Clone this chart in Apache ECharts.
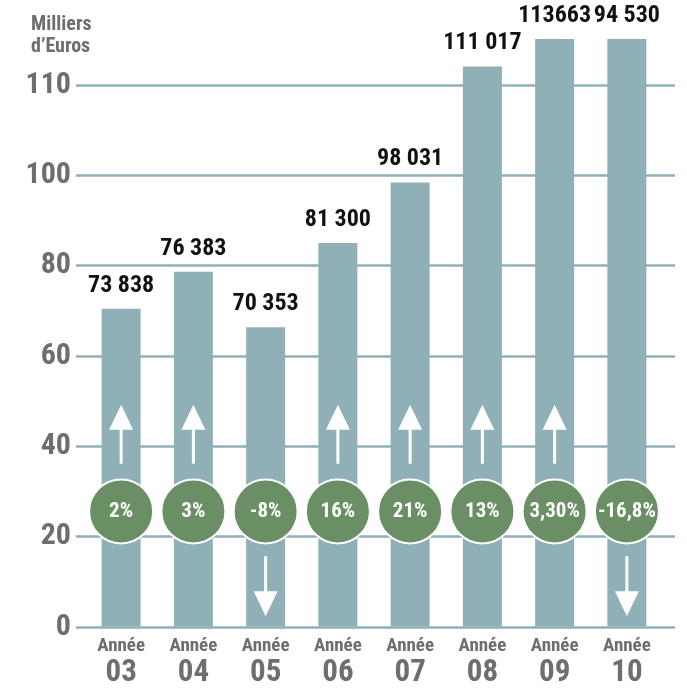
<!DOCTYPE html>
<html>
<head>
<meta charset="utf-8">
<script src="https://cdn.jsdelivr.net/npm/echarts@6/dist/echarts.min.js"></script>
<style>
html,body{margin:0;padding:0;background:#fff;}
#chart{width:687px;height:689px;}
</style>
</head>
<body>
<div id="chart"></div>
<script>
// ---- data ----
var categories = ['03','04','05','06','07','08','09','10'];
var barHeights = [70.4, 78.6, 66.3, 85.0, 98.4, 124.1, 130.2, 130.2];
var valueLabels = ['73 838','76 383','70 353','81 300','98 031','111 017','113663','94 530'];
var growthLabels = ['2%','3%','-8%','16%','21%','13%','3,30%','-16,8%'];
var yTickLabels = ['0','20','40','60','80','100','110'];

var FONT = '"Roboto Condensed","Open Sans Condensed",sans-serif';
var GREY = '#6d6e71';
var BAR = '#8eb0b6';

var circleLevel = 25.5;
var upLevel = 42.6;
var downLevel = 8.9;

var upPath = 'path://M12,0 L24,25 L13.5,25 L13.5,59 L10.5,59 L10.5,25 L0,25 Z';
var downPath = 'path://M10.5,0 L13.5,0 L13.5,35 L24,35 L12,60 L0,35 L10.5,35 Z';

var circleData = categories.map(function(c, i){ return { value: [i, circleLevel], label: { formatter: growthLabels[i] } }; });
var arrowData = categories.map(function(c, i){
  var down = growthLabels[i].charAt(0) === '-';
  return { value: [i, down ? downLevel : upLevel], symbol: down ? downPath : upPath, symbolSize: [24, down ? 60 : 59] };
});

var chart = echarts.init(document.getElementById('chart'));
chart.setOption({
  animation: false,
  backgroundColor: '#fff',
  title: {
    text: 'Milliers\nd\u2019Euros',
    left: 26, top: 9,
    textStyle: { fontFamily: FONT, fontSize: 20, fontWeight: 'bold', color: GREY, lineHeight: 22 }
  },
  grid: [
    { left: 76, right: 12, top: 85, bottom: 62 },
    { left: 85, width: 578, top: 85, bottom: 62 }
  ],
  xAxis: [
    { type: 'category', gridIndex: 0, data: categories, show: false },
    {
      type: 'category', gridIndex: 1, data: categories,
      axisLine: { show: false }, axisTick: { show: false },
      axisLabel: {
        margin: 9,
        formatter: function(v){ return '{a|Ann\u00e9e}\n{b|' + v + '}'; },
        rich: {
          a: { fontFamily: FONT, fontSize: 19, fontWeight: 'bold', color: GREY, lineHeight: 22, align: 'center' },
          b: { fontFamily: FONT, fontSize: 31, fontWeight: 'bold', color: GREY, lineHeight: 32, align: 'center' }
        }
      }
    }
  ],
  yAxis: [
    {
      type: 'value', gridIndex: 0, min: 0, max: 120, interval: 20,
      axisLine: { show: false }, axisTick: { show: false },
      splitLine: { show: true, lineStyle: { color: BAR, width: 2.5 } },
      axisLabel: {
        margin: 5,
        fontFamily: FONT, fontSize: 30, fontWeight: 'bold', color: GREY,
        formatter: function(v){ return yTickLabels[Math.round(v / 20)]; }
      }
    },
    { type: 'value', gridIndex: 1, min: 0, max: 120, interval: 20, show: false }
  ],
  series: [
    {
      type: 'bar', xAxisIndex: 1, yAxisIndex: 1,
      data: barHeights, barWidth: 39, clip: false,
      itemStyle: { color: BAR },
      label: {
        show: true, position: 'top', distance: 11,
        fontFamily: FONT, fontSize: 24, fontWeight: 'bold', color: '#111',
        formatter: function(p){ return valueLabels[p.dataIndex]; }
      },
      z: 2
    },
    {
      type: 'scatter', xAxisIndex: 1, yAxisIndex: 1,
      data: arrowData, clip: false,
      itemStyle: { color: '#fff', opacity: 1 },
      z: 3
    },
    {
      type: 'scatter', xAxisIndex: 1, yAxisIndex: 1,
      data: circleData, symbol: 'circle', symbolSize: 64, clip: false,
      itemStyle: { color: '#6a8f65', borderColor: '#fff', borderWidth: 2, opacity: 1 },
      label: {
        show: true, position: 'inside',
        fontFamily: FONT, fontSize: 21, fontWeight: 'bold', color: '#fff'
      },
      z: 4
    }
  ]
});
</script>
</body>
</html>
